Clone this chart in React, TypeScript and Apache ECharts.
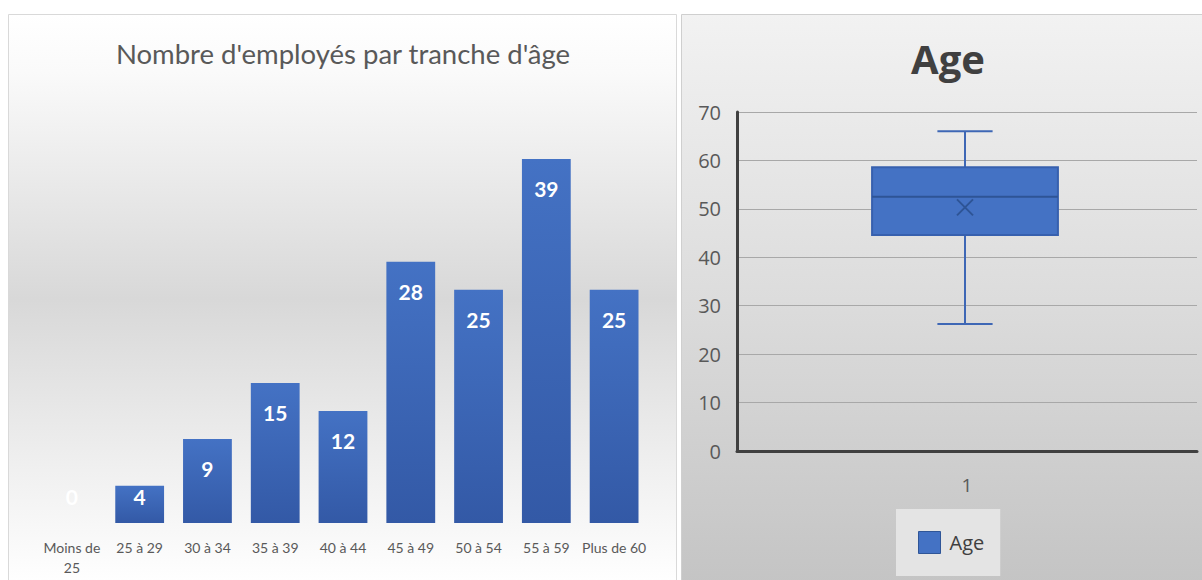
import React, { useEffect, useRef } from "react";
import * as echarts from "echarts";

const categories = ["Moins de 25", "25 à 29", "30 à 34", "35 à 39", "40 à 44", "45 à 49", "50 à 54", "55 à 59", "Plus de 60"];
const counts = [0, 4, 9, 15, 12, 28, 25, 39, 25];

const boxCategories = ["1"];
// min, Q1, median, Q3, max
const ageBox = [26.2, 44.6, 52.5, 58.6, 66];
const ageMean = [50.3];

const barTitle = "Nombre d'employés par tranche d'âge";
const boxTitle = "Age";
const seriesName = "Age";

const BLUE = "#4472C4";
const DARK_BLUE = "#2F5597";

export default function App() {
  const ref = useRef<HTMLDivElement>(null);

  useEffect(() => {
    document.body.style.margin = "0";
    const chart = echarts.init(ref.current!, undefined, { renderer: "svg" });

    const leftBg = {
      type: "linear", x: 0, y: 0, x2: 0, y2: 1,
      colorStops: [
        { offset: 0, color: "#FFFFFF" },
        { offset: 0.1, color: "#FAFAFA" },
        { offset: 0.5, color: "#D8D8D8" },
        { offset: 0.8, color: "#F0F0F0" },
        { offset: 1, color: "#FFFFFF" },
      ],
    };
    const rightBg = {
      type: "linear", x: 0, y: 0, x2: 0, y2: 1,
      colorStops: [
        { offset: 0, color: "#F2F2F2" },
        { offset: 0.5, color: "#DCDCDC" },
        { offset: 1, color: "#C4C4C4" },
      ],
    };
    const barGrad = {
      type: "linear", x: 0, y: 0, x2: 0, y2: 1,
      colorStops: [
        { offset: 0, color: "#4472C4" },
        { offset: 1, color: "#3359A6" },
      ],
    };

    const option: any = {
      animation: false,
      graphic: {
        elements: [
          {
            type: "rect", z: -100, silent: true,
            shape: { x: 8.5, y: 14.5, width: 668, height: 570 },
            style: { fill: leftBg, stroke: "#D9D9D9", lineWidth: 1 },
          },
          {
            type: "rect", z: -100, silent: true,
            shape: { x: 681.5, y: 14.5, width: 525, height: 570 },
            style: { fill: rightBg, stroke: "#CFCFCF", lineWidth: 1 },
          },
        ],
      },
      title: [
        {
          text: barTitle, left: 343, top: 39, textAlign: "center", padding: 0,
          textStyle: { fontFamily: "Lato", fontSize: 27.5, fontWeight: "normal", color: "#595959" },
        },
        {
          text: boxTitle, left: 948, top: 38, textAlign: "center", padding: 0,
          textStyle: { fontFamily: "Open Sans", fontSize: 40, fontWeight: "bold", color: "#404040" },
        },
      ],
      legend: {
        left: 896, top: 509, padding: [22, 16, 22, 22], itemGap: 0,
        backgroundColor: "#E4E4E4",
        itemWidth: 22, itemHeight: 22,
        textStyle: { fontFamily: "Open Sans", fontSize: 20, color: "#404040", padding: [0, 0, 0, 4] },
        data: [{ name: seriesName, icon: "rect", itemStyle: { color: BLUE, borderColor: DARK_BLUE, borderWidth: 1 } }],
      },
      grid: [
        { left: 38, right: 554, top: 159, bottom: 57 },
        { left: 737, right: 5, top: 112, bottom: 129 },
      ],
      xAxis: [
        {
          type: "category", gridIndex: 0, data: categories,
          axisLine: { show: false }, axisTick: { show: false },
          axisLabel: {
            interval: 0, margin: 14, fontFamily: "Lato", fontSize: 14, color: "#595959", lineHeight: 20,
            formatter: (v: string) => (v.length > 10 ? v.replace(/ (\S+)$/, "\n$1") : v),
          },
        },
        {
          type: "category", gridIndex: 1, data: boxCategories,
          axisLine: { show: true, lineStyle: { color: "#404040", width: 3 } },
          axisTick: { show: false },
          axisLabel: { margin: 24, fontFamily: "Open Sans", fontSize: 19, color: "#595959" },
        },
      ],
      yAxis: [
        {
          type: "value", gridIndex: 0, min: 0, max: "dataMax", show: false,
          splitLine: { show: false },
        },
        {
          type: "value", gridIndex: 1, min: 0, max: 70, interval: 10,
          axisLine: { show: true, lineStyle: { color: "#404040", width: 3 } },
          axisTick: { show: false },
          axisLabel: { margin: 16, fontFamily: "Open Sans", fontSize: 20, color: "#595959" },
          splitLine: { show: true, lineStyle: { color: "#A8A8A8", width: 1 } },
        },
      ],
      series: [
        {
          type: "bar", xAxisIndex: 0, yAxisIndex: 0,
          barCategoryGap: "28%",
          itemStyle: { color: barGrad },
          label: {
            show: true, color: "#FFFFFF", fontFamily: "Lato", fontWeight: "bold", fontSize: 21,
          },
          data: counts.map((v) => ({
            value: v,
            label: v < 5 ? { position: "insideBottom", distance: 16 } : { position: "insideTop", distance: 19 },
          })),
        },
        {
          type: "custom", name: seriesName, xAxisIndex: 1, yAxisIndex: 1,
          color: BLUE,
          encode: { x: 0, y: [1, 2, 3, 4, 5, 6] },
          data: [[0, ...ageBox, ageMean[0]]],
          renderItem: (params: any, api: any) => {
            const cat = api.value(0);
            const pt = (v: number) => api.coord([cat, v]);
            const x = pt(0)[0] - 2;
            const yMin = pt(api.value(1))[1];
            const yQ1 = pt(api.value(2))[1];
            const yMed = pt(api.value(3))[1];
            const yQ3 = pt(api.value(4))[1];
            const yMax = pt(api.value(5))[1];
            const yMean = pt(api.value(6))[1];
            const band = api.size([1, 0])[0];
            const half = band * 0.202;
            const cap = band * 0.06;
            const m = 8;
            const lineStyle = { stroke: "#3E67B5", lineWidth: 2 };
            const darkStyle = { stroke: "#2E5496", lineWidth: 2 };
            return {
              type: "group",
              children: [
                { type: "line", shape: { x1: x, y1: yMin, x2: x, y2: yQ1 }, style: lineStyle },
                { type: "line", shape: { x1: x, y1: yQ3, x2: x, y2: yMax }, style: lineStyle },
                { type: "line", shape: { x1: x - cap, y1: yMin, x2: x + cap, y2: yMin }, style: lineStyle },
                { type: "line", shape: { x1: x - cap, y1: yMax, x2: x + cap, y2: yMax }, style: lineStyle },
                {
                  type: "rect",
                  shape: { x: x - half, y: yQ3, width: half * 2, height: yQ1 - yQ3 },
                  style: { fill: BLUE, stroke: "#3760AE", lineWidth: 2 },
                },
                { type: "line", shape: { x1: x - half, y1: yMed, x2: x + half, y2: yMed }, style: darkStyle },
                { type: "line", shape: { x1: x - m, y1: yMean - m, x2: x + m, y2: yMean + m }, style: darkStyle },
                { type: "line", shape: { x1: x - m, y1: yMean + m, x2: x + m, y2: yMean - m }, style: darkStyle },
              ],
            };
          },
        },
      ],
    };

    chart.setOption(option);
    return () => chart.dispose();
  }, []);

  return <div ref={ref} style={{ width: 1202, height: 580 }} />;
}
